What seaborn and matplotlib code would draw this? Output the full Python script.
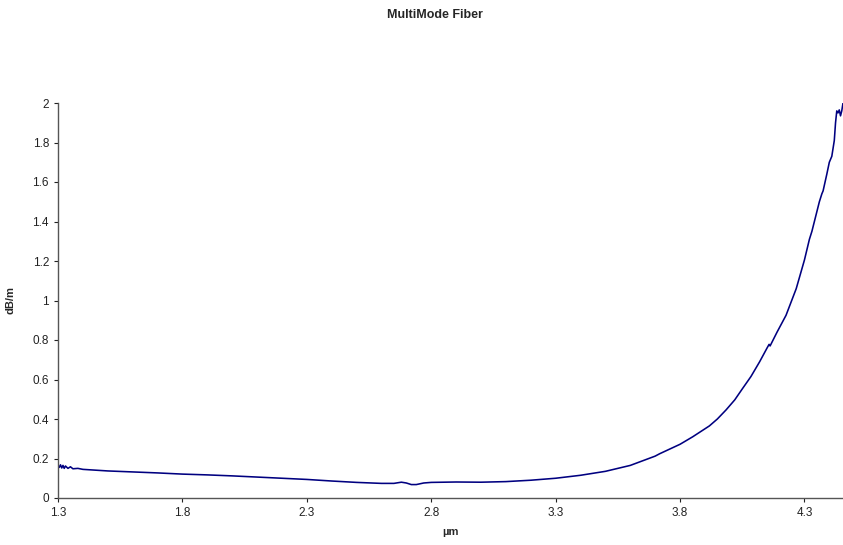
import matplotlib
matplotlib.use("Agg")
import matplotlib.pyplot as plt
import seaborn as sns
import pandas as pd

# wavelength (um) and attenuation (dB/m)
wavelength = [
    1.300, 1.305, 1.310, 1.315, 1.320, 1.325, 1.330, 1.340, 1.350, 1.360,
    1.380, 1.400, 1.450, 1.500, 1.600, 1.700, 1.800, 1.900, 2.000, 2.100,
    2.200, 2.300, 2.400, 2.500, 2.600, 2.650, 2.680, 2.700, 2.720, 2.740,
    2.770, 2.800, 2.900, 3.000, 3.100, 3.200, 3.300, 3.400, 3.500, 3.600,
    3.700, 3.718, 3.800, 3.851, 3.918, 3.950, 3.985, 4.020, 4.050, 4.085,
    4.120, 4.150, 4.158, 4.162, 4.190, 4.226, 4.267, 4.300, 4.320, 4.330,
    4.340, 4.360, 4.370, 4.375, 4.390, 4.400, 4.410, 4.420, 4.425, 4.430,
    4.435, 4.440, 4.445, 4.450, 4.455,
]
loss = [
    0.165, 0.155, 0.168, 0.152, 0.165, 0.150, 0.162, 0.150, 0.158, 0.148,
    0.150, 0.145, 0.141, 0.137, 0.132, 0.127, 0.121, 0.117, 0.112, 0.106,
    0.100, 0.094, 0.086, 0.079, 0.074, 0.074, 0.080, 0.076, 0.068, 0.068,
    0.076, 0.079, 0.081, 0.080, 0.083, 0.090, 0.100, 0.115, 0.135, 0.165,
    0.212, 0.224, 0.272, 0.310, 0.365, 0.400, 0.446, 0.497, 0.552, 0.615,
    0.690, 0.760, 0.778, 0.770, 0.840, 0.925, 1.060, 1.205, 1.310, 1.350,
    1.400, 1.500, 1.540, 1.555, 1.640, 1.700, 1.730, 1.810, 1.900, 1.960,
    1.950, 1.965, 1.935, 1.960, 2.000,
]
x_ticks = [1.3, 1.8, 2.3, 2.8, 3.3, 3.8, 4.3]
y_ticks = [0, 0.2, 0.4, 0.6, 0.8, 1, 1.2, 1.4, 1.6, 1.8, 2]

df = pd.DataFrame({"um": wavelength, "dBm": loss})

sns.set_style("white")
plt.rcParams["font.family"] = ["Liberation Sans", "DejaVu Sans"]

fig = plt.figure(figsize=(8.43, 5.45), dpi=100)
ax = fig.add_axes([58 / 843, 47 / 545, 1 - 58 / 843, (498 - 103) / 545])

sns.lineplot(data=df, x="um", y="dBm", color="#000080", linewidth=1.15, ax=ax)

ax.set_xlim(1.3, 4.455)
ax.set_ylim(0, 2)
ax.set_xticks(x_ticks)
ax.set_xticklabels([f"{t:g}" for t in x_ticks])
ax.set_yticks(y_ticks)
ax.set_yticklabels([f"{t:g}" for t in y_ticks])
ax.tick_params(axis="both", labelsize=8.5, colors="#222222", length=3, width=0.8,
               direction="out", left=True, bottom=True)

for side in ["top", "right"]:
    ax.spines[side].set_visible(False)
for side in ["left", "bottom"]:
    ax.spines[side].set_color("#555555")
    ax.spines[side].set_linewidth(1.0)

ax.set_xlabel("µm", fontsize=8, fontweight="bold", labelpad=6)
ax.set_ylabel("dB/m", fontsize=8, fontweight="bold", labelpad=12)

fig.text(434.5 / 843, 1 - 15 / 545, "MultiMode Fiber", ha="center", va="center",
         fontsize=9, fontweight="bold")

fig.savefig("out.png", dpi=100)
